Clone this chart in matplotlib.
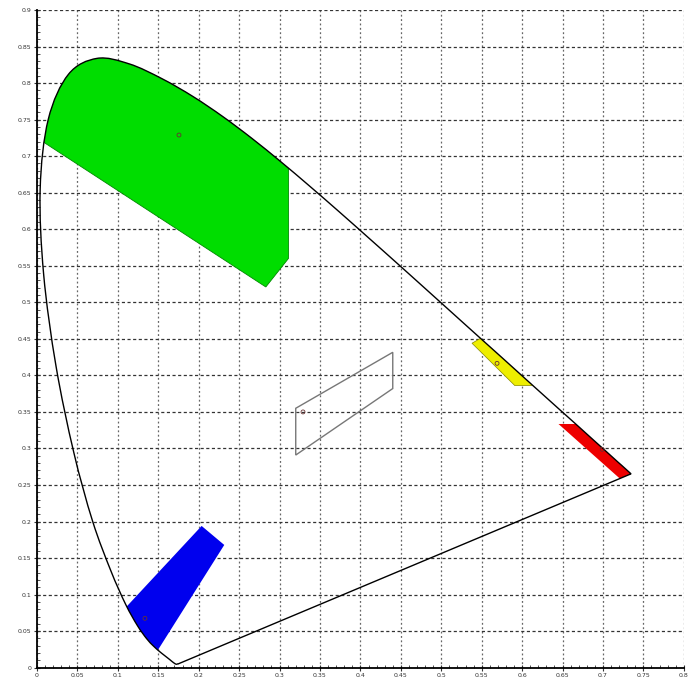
import numpy as np
import matplotlib
matplotlib.use("Agg")
import matplotlib.pyplot as plt
from matplotlib.path import Path
from matplotlib.patches import PathPatch, Polygon
from matplotlib.ticker import MultipleLocator, FuncFormatter

# CIE 1931 2-degree spectral locus (380-700 nm, 5 nm steps)
locus_x = [0.1741, 0.1740, 0.1738, 0.1736, 0.1733, 0.1730, 0.1726, 0.1721, 0.1714, 0.1703,
           0.1689, 0.1669, 0.1644, 0.1611, 0.1566, 0.1510, 0.1440, 0.1355, 0.1241, 0.1096,
           0.0913, 0.0687, 0.0454, 0.0235, 0.0082, 0.0039, 0.0139, 0.0389, 0.0743, 0.1142,
           0.1547, 0.1929, 0.2296, 0.2658, 0.3016, 0.3373, 0.3731, 0.4087, 0.4441, 0.4788,
           0.5125, 0.5448, 0.5752, 0.6029, 0.6270, 0.6482, 0.6658, 0.6801, 0.6915, 0.7006,
           0.7079, 0.7140, 0.7190, 0.7230, 0.7260, 0.7283, 0.7300, 0.7311, 0.7320, 0.7327,
           0.7334, 0.7347]
locus_y = [0.0050, 0.0050, 0.0049, 0.0049, 0.0048, 0.0048, 0.0048, 0.0048, 0.0051, 0.0058,
           0.0069, 0.0086, 0.0109, 0.0138, 0.0177, 0.0227, 0.0297, 0.0399, 0.0578, 0.0868,
           0.1327, 0.2007, 0.2950, 0.4127, 0.5384, 0.6548, 0.7502, 0.8120, 0.8338, 0.8262,
           0.8059, 0.7816, 0.7543, 0.7243, 0.6923, 0.6589, 0.6245, 0.5896, 0.5547, 0.5202,
           0.4866, 0.4544, 0.4242, 0.3965, 0.3725, 0.3514, 0.3340, 0.3197, 0.3083, 0.2993,
           0.2920, 0.2859, 0.2809, 0.2770, 0.2740, 0.2717, 0.2700, 0.2689, 0.2680, 0.2673,
           0.2666, 0.2653]

# Colour regions (inner vertices; the sides lying on the
# spectral locus are produced by clipping with the locus outline)
green_x = [-0.05, 0.283, 0.311, 0.311, -0.05]
green_y = [0.761, 0.521, 0.560, 0.95, 0.95]
blue_x = [0.2036, 0.2316, 0.130, 0.080]
blue_y = [0.194, 0.168, -0.010, 0.047]
yellow_x = [0.538, 0.560, 0.650, 0.591]
yellow_y = [0.444, 0.458, 0.386, 0.386]
red_x = [0.645, 0.720, 0.780, 0.740]
red_y = [0.3335, 0.3335, 0.250, 0.240]
white_x = [0.320, 0.440, 0.440, 0.320]
white_y = [0.355, 0.4316, 0.382, 0.291]

# Reference points
pt_x = [0.1756, 0.1335, 0.569, 0.699, 0.329]
pt_y = [0.7289, 0.0676, 0.4165, 0.2988, 0.350]


def smooth_closed_path(xs, ys):
    """Closed path: smooth cubic Bezier through the locus points, straight purple line."""
    P = np.column_stack([xs, ys])
    n = len(P)
    verts = [P[0]]
    codes = [Path.MOVETO]
    for i in range(n - 1):
        p0 = P[i - 1] if i > 0 else P[i]
        p1 = P[i]
        p2 = P[i + 1]
        p3 = P[i + 2] if i + 2 < n else P[i + 1]
        c1 = p1 + (p2 - p0) / 6.0
        c2 = p2 - (p3 - p1) / 6.0
        verts += [c1, c2, p2]
        codes += [Path.CURVE4] * 3
    verts.append(P[0])
    codes.append(Path.LINETO)
    return Path(np.array(verts), codes)


fig = plt.figure(figsize=(6.97, 6.84), dpi=100)
ax = fig.add_axes([0.0531, 0.0238, 0.928, 0.9616])
ax.set_xlim(0, 0.8)
ax.set_ylim(0, 0.9)

locus_path = smooth_closed_path(locus_x, locus_y)
clip_patch = PathPatch(locus_path, facecolor='none', edgecolor='none', transform=ax.transData)
ax.add_patch(clip_patch)

regions = [
    (green_x, green_y, '#00dd00', '#008800', 0.6),
    (blue_x, blue_y, '#0000ee', 'none', 0),
    (yellow_x, yellow_y, '#eeee00', '#888800', 0.5),
    (red_x, red_y, '#ee0000', 'none', 0),
]
for xs, ys, fc, ec, lw in regions:
    poly = Polygon(np.column_stack([xs, ys]), closed=True, facecolor=fc,
                   edgecolor=ec, lw=lw, zorder=2)
    ax.add_patch(poly)
    poly.set_clip_path(clip_patch)

ax.add_patch(Polygon(np.column_stack([white_x, white_y]), closed=True,
                     facecolor='none', edgecolor='#777777', lw=1.0, zorder=3))

ax.add_patch(PathPatch(locus_path, facecolor='none', edgecolor='black', lw=1.0, zorder=4))

ax.scatter(pt_x, pt_y, s=8, facecolors='none', edgecolors='#663333', lw=0.6, zorder=5)

ax.xaxis.set_major_locator(MultipleLocator(0.05))
ax.yaxis.set_major_locator(MultipleLocator(0.05))
ax.xaxis.set_minor_locator(MultipleLocator(0.01))
ax.yaxis.set_minor_locator(MultipleLocator(0.01))
fmt = FuncFormatter(lambda v, p: ('%.2f' % v).rstrip('0').rstrip('.') if abs(v) > 1e-9 else '0')
ax.xaxis.set_major_formatter(fmt)
ax.yaxis.set_major_formatter(fmt)
ax.tick_params(which='major', direction='inout', length=4, width=0.8, labelsize=4.5,
               colors='#333333', pad=2)
ax.tick_params(which='minor', direction='in', length=2, width=0.6, colors='#333333')

# vertical grid lines: lighter dotted; horizontal: darker dashed
ax.xaxis.grid(True, which='major', color='#666666', linestyle=(0, (1.5, 2)), lw=0.9)
ax.yaxis.grid(True, which='major', color='#333333', linestyle=(0, (2.5, 2)), lw=0.9)
ax.set_axisbelow(True)
for s in ['top', 'right']:
    ax.spines[s].set_visible(False)
ax.spines['left'].set_linewidth(1.3)
ax.spines['bottom'].set_linewidth(1.3)

fig.savefig('out.png', dpi=100)
